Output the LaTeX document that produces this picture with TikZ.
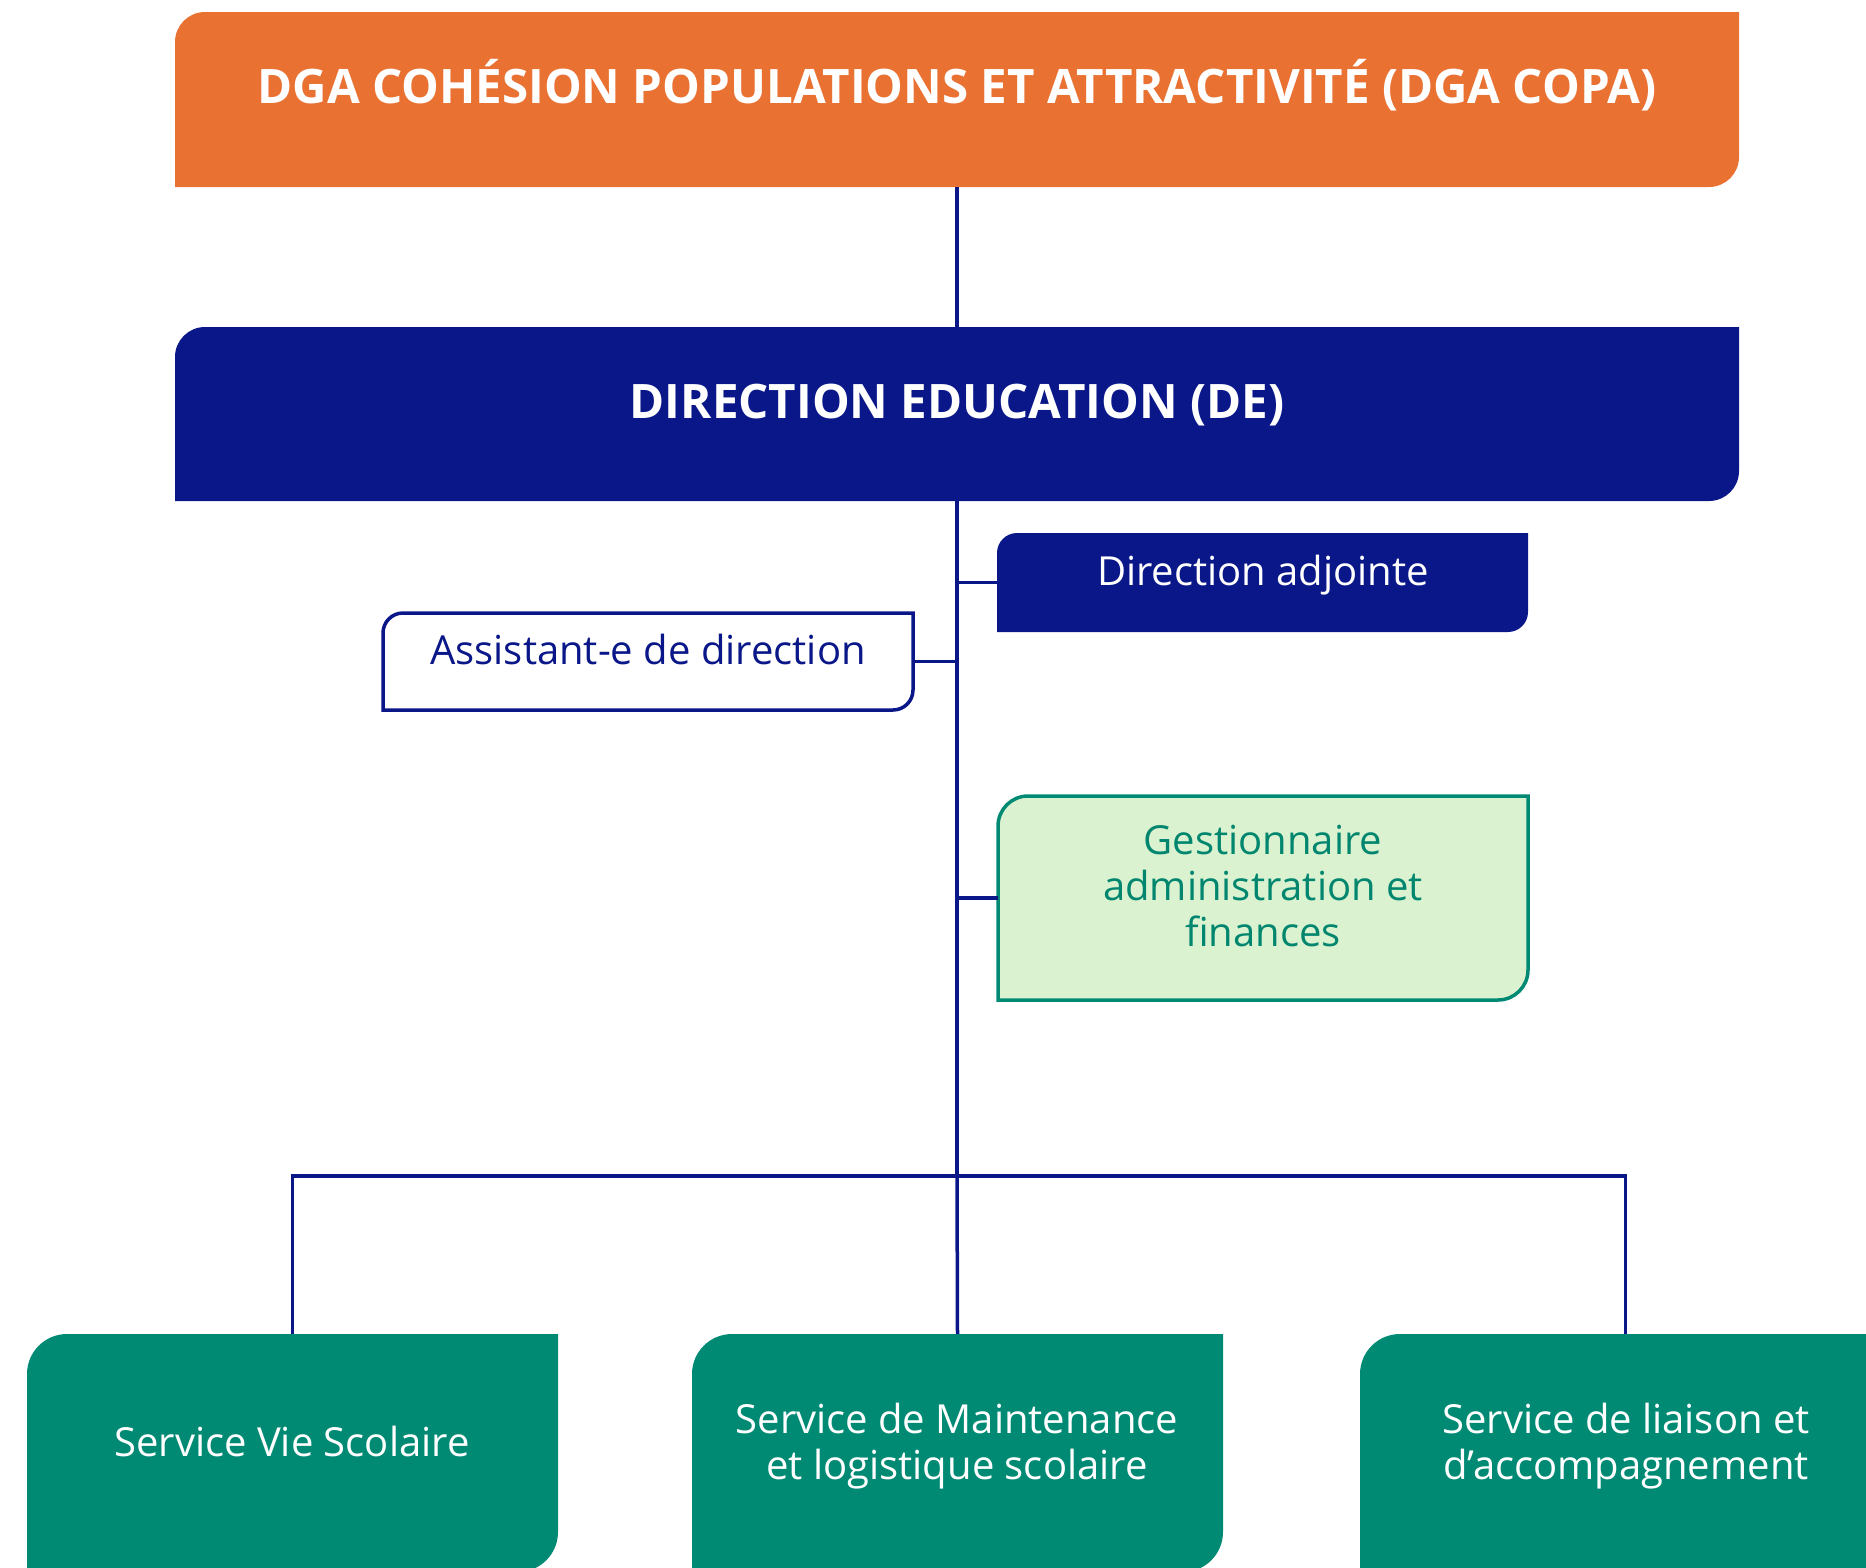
\documentclass[tikz,border=0pt]{standalone}
\usepackage{fontspec}
\setmainfont{Open Sans}
\definecolor{copaorange}{HTML}{E97132}
\definecolor{navy}{HTML}{0A1789}
\definecolor{teal}{HTML}{008A74}
\definecolor{lightgreen}{HTML}{DAF2D0}
\definecolor{tealtext}{HTML}{00866E}
\newcommand\diagshape[3]{%
  \path[#3] (#1.south west) -- ([yshift=-#2]#1.north west)
    arc[start angle=180,end angle=90,radius=#2] -- (#1.north east)
    -- ([yshift=#2]#1.south east)
    arc[start angle=0,end angle=-90,radius=#2] -- cycle;}
\tikzset{
  frame/.style={rectangle, inner sep=0pt, outer sep=0pt, draw=none, anchor=north west},
  conn/.style={draw=navy, line width=3.5pt},
  boldtxt/.style={text=white, anchor=base, inner sep=0pt, font=\bfseries\fontsize{47.5}{56}\selectfont},
  regtxt/.style={anchor=base, inner sep=0pt, align=center, font=\fontsize{40}{46}\selectfont},
}
\begin{document}
\begin{tikzpicture}[x=1pt,y=1pt]
\useasboundingbox (0,0) rectangle (1866,-1567);
\clip (0,0) rectangle (1866,-1567);
% frames
\node[frame, minimum width=1564pt, minimum height=175pt] (dga) at (175,-12) {};
\node[frame, minimum width=1564pt, minimum height=174pt] (de) at (175,-327) {};
\node[frame, minimum width=531pt, minimum height=99pt] (da) at (997,-533) {};
\node[frame, minimum width=530pt, minimum height=97pt] (asst) at (383,-613) {};
\node[frame, minimum width=530pt, minimum height=204pt] (gest) at (998,-796) {};
\node[frame, minimum width=531pt, minimum height=238pt] (s1) at (27,-1334) {};
\node[frame, minimum width=531pt, minimum height=238pt] (s2) at (692,-1334) {};
\node[frame, minimum width=531pt, minimum height=238pt] (s3) at (1360,-1334) {};
\coordinate (bus) at (957,-1176);
% shapes
\diagshape{dga}{30pt}{fill=copaorange}
\diagshape{de}{30pt}{fill=navy}
\diagshape{da}{20pt}{fill=navy}
\diagshape{asst}{20pt}{fill=white, draw=navy, line width=3.5pt}
\diagshape{gest}{30pt}{fill=lightgreen, draw=teal, line width=3.5pt}
\diagshape{s1}{40pt}{fill=teal}
\diagshape{s2}{40pt}{fill=teal}
\diagshape{s3}{40pt}{fill=teal}
% connectors
\draw[conn] (dga.south) -- (de.north);
\draw[conn] (de.south) -- (bus);
\draw[conn] (da.west) -- (da.west -| de.south);
\draw[conn] (asst.east) -- (asst.east -| de.south);
\draw[conn] (gest.west) -- (gest.west -| de.south);
\draw[conn] (s1.north) |- (bus) -| (s3.north);
\draw[conn] (bus) -- (s2.north);
% texts
\node[boldtxt] (t-dga) at (957,-103) {DGA COHÉSION POPULATIONS ET ATTRACTIVITÉ (DGA COPA)};
\node[boldtxt] (t-de) at (957,-418) {DIRECTION EDUCATION (DE)};
\node[regtxt, text=white] (t-da) at (1263,-585) {Direction adjointe};
\node[regtxt, text=navy] (t-asst) at (648,-664) {Assistant-e de direction};
\node[regtxt, text=tealtext] (t-gest) at (1263,-946) {Gestionnaire\\administration et\\finances};
\node[regtxt, text=white] (t-s1) at (292,-1456) {Service Vie Scolaire};
\node[regtxt, text=white] (t-s2) at (957,-1479) {Service de Maintenance\\et logistique scolaire};
\node[regtxt, text=white] (t-s3) at (1626,-1479) {Service de liaison et\\d’accompagnement};
\end{tikzpicture}
\end{document}
